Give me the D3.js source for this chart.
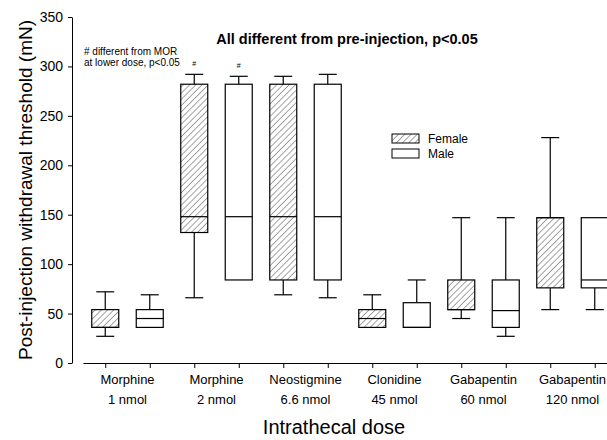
<!DOCTYPE html>
<html>
<head>
<meta charset="utf-8">
<script src="https://cdn.jsdelivr.net/npm/d3@7"></script>
<style>
	body { margin: 0; background: white; }
	text { font-family: "Liberation Sans", Arial, sans-serif; fill: black; }
</style>
</head>
<body>
<script>

//****************************************************************************************************************************//
// Data

var drugNames = ["Morphine", "Morphine", "Neostigmine", "Clonidine", "Gabapentin", "Gabapentin"];
var doseNames = ["1 nmol", "2 nmol", "6.6 nmol", "45 nmol", "60 nmol", "120 nmol"];
var sexes = ["Female", "Male"];

// box stats per dose : [lower whisker, q1, median, q3, upper whisker]
var femaleStats = [
	[27, 36, 36, 54, 72],
	[66, 132, 148, 282, 292],
	[69, 84, 148, 282, 290],
	[36, 36, 45, 54, 69],
	[45, 54, 54, 84, 147],
	[54, 76, 147, 147, 228]
];
var maleStats = [
	[36, 36, 45, 54, 69],
	[84, 84, 148, 282, 290],
	[66, 84, 148, 282, 292],
	[36, 36, 36, 61, 84],
	[27, 36, 53, 84, 147],
	[54, 76, 84, 147, 147]
];
// "#" marks : dose index and sex
var hashMarks = [[1, "Female"], [1, "Male"]];
var yTicks = [0, 50, 100, 150, 200, 250, 300, 350];

//****************************************************************************************************************************//
// Canvas

var width = 607, height = 440;
var canvas = d3.select("body").append("svg")
				.attr("width", width)
				.attr("height", height);

canvas.append("rect")
		.attr("width", width)
		.attr("height", height)
		.attr("fill", "white");

var defs = canvas.append("defs");
var hatch = defs.append("pattern")
				.attr("id", "hatch")
				.attr("patternUnits", "userSpaceOnUse")
				.attr("width", 4.4)
				.attr("height", 4.4)
				.attr("patternTransform", "rotate(45)");
hatch.append("rect")
		.attr("width", 4.4)
		.attr("height", 4.4)
		.attr("fill", "white");
hatch.append("line")
		.attr("x1", 0).attr("y1", 0)
		.attr("x2", 0).attr("y2", 4.4)
		.attr("stroke", "#333")
		.attr("stroke-width", 0.9);

//****************************************************************************************************************************//
// Scales

var keys = [];
drugNames.forEach(function(d, i){ sexes.forEach(function(s){ keys.push(i + "-" + s); }); });

var xBox = d3.scalePoint().domain(keys).range([83, 617]).padding(0.5);
var xCat = d3.scaleBand().domain(d3.range(drugNames.length)).range([83, 617]);
var y = d3.scaleLinear().domain([0, 350]).range([363, 17]);
var boxWidth = 27, capWidth = 18;

//****************************************************************************************************************************//
// Axes

var xAxis = canvas.append("g")
				.attr("transform", "translate(0," + y(0) + ")")
				.call(d3.axisBottom(xBox).tickSizeInner(5).tickSizeOuter(0).tickFormat(""));
xAxis.select(".domain").attr("stroke", "black");

var yAxis = canvas.append("g")
				.attr("transform", "translate(72,0)")
				.call(d3.axisLeft(y).tickValues(yTicks).tickSizeInner(4).tickSizeOuter(0).tickPadding(5));
yAxis.selectAll("text")
		.style("font-size", "14px")
		.style("font-family", "'Liberation Sans', Arial, sans-serif");

var catLabels = canvas.append("g");
drugNames.forEach(function(d, i){
	catLabels.append("text")
			.attr("x", xCat(i) + xCat.bandwidth()/2)
			.attr("y", 384)
			.attr("text-anchor", "middle")
			.style("font-size", "13px")
			.text(d);
	catLabels.append("text")
			.attr("x", xCat(i) + xCat.bandwidth()/2)
			.attr("y", 404)
			.attr("text-anchor", "middle")
			.style("font-size", "13px")
			.text(doseNames[i]);
});

canvas.append("text")
		.attr("x", 334)
		.attr("y", 434)
		.attr("text-anchor", "middle")
		.style("font-size", "20px")
		.text("Intrathecal dose");

canvas.append("text")
		.attr("transform", "translate(32," + 190 + ") rotate(-90)")
		.attr("text-anchor", "middle")
		.style("font-size", "19px")
		.text("Post-injection withdrawal threshold (mN)");

//****************************************************************************************************************************//
// Boxes

function drawBoxes(stats, sex){
	stats.forEach(function(s, i){
		var cx = xBox(i + "-" + sex);
		var g = canvas.append("g").attr("stroke", "black").attr("stroke-width", 1.2);
		// whiskers
		if (s[4] > s[3]){
			g.append("line").attr("x1", cx).attr("x2", cx).attr("y1", y(s[3])).attr("y2", y(s[4]));
			g.append("line").attr("x1", cx - capWidth/2).attr("x2", cx + capWidth/2).attr("y1", y(s[4])).attr("y2", y(s[4]));
		}
		if (s[0] < s[1]){
			g.append("line").attr("x1", cx).attr("x2", cx).attr("y1", y(s[1])).attr("y2", y(s[0]));
			g.append("line").attr("x1", cx - capWidth/2).attr("x2", cx + capWidth/2).attr("y1", y(s[0])).attr("y2", y(s[0]));
		}
		g.append("rect")
			.attr("x", cx - boxWidth/2)
			.attr("y", y(s[3]))
			.attr("width", boxWidth)
			.attr("height", y(s[1]) - y(s[3]))
			.attr("fill", sex == "Female" ? "url(#hatch)" : "white");
		g.append("line")
			.attr("x1", cx - boxWidth/2).attr("x2", cx + boxWidth/2)
			.attr("y1", y(s[2])).attr("y2", y(s[2]));
	});
}
drawBoxes(femaleStats, "Female");
drawBoxes(maleStats, "Male");

hashMarks.forEach(function(h){
	var s = h[1] == "Female" ? femaleStats[h[0]] : maleStats[h[0]];
	canvas.append("text")
			.attr("x", xBox(h[0] + "-" + h[1]))
			.attr("y", y(s[4]) - 8)
			.attr("text-anchor", "middle")
			.style("font-size", "7px")
			.text("#");
});

//****************************************************************************************************************************//
// Legend and notes

var legend = canvas.append("g").attr("transform", "translate(392,134)");
sexes.forEach(function(s, i){
	legend.append("rect")
			.attr("x", 0)
			.attr("y", i*15)
			.attr("width", 27)
			.attr("height", 9)
			.attr("fill", s == "Female" ? "url(#hatch)" : "white")
			.attr("stroke", "black")
			.attr("stroke-width", 1);
	legend.append("text")
			.attr("x", 36)
			.attr("y", i*15 + 8.5)
			.style("font-size", "12px")
			.text(s);
});

canvas.append("text")
		.attr("x", 347)
		.attr("y", 44)
		.attr("text-anchor", "middle")
		.style("font-size", "14.5px")
		.style("font-weight", "bold")
		.text("All different from pre-injection, p<0.05");

canvas.append("text")
		.attr("x", 84)
		.attr("y", 55)
		.style("font-size", "10px")
		.text("# different from MOR");
canvas.append("text")
		.attr("x", 84)
		.attr("y", 66)
		.style("font-size", "10px")
		.text("at lower dose, p<0.05");

</script>
</body>
</html>
